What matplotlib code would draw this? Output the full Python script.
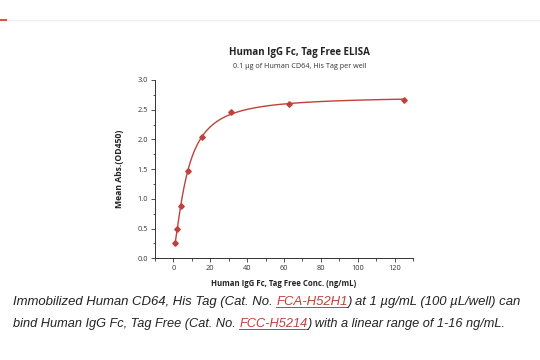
import matplotlib
matplotlib.use("Agg")
import matplotlib.pyplot as plt
import numpy as np
from matplotlib.lines import Line2D

# data
conc = [0.98, 1.95, 3.91, 7.81, 15.63, 31.25, 62.5, 125.0]
od450 = [0.25, 0.49, 0.88, 1.46, 2.04, 2.46, 2.60, 2.66]

title = "Human IgG Fc, Tag Free ELISA"
subtitle = "0.1 \u00b5g of Human CD64, His Tag per well"
xlabel = "Human IgG Fc, Tag Free Conc. (ng/mL)"
ylabel = "Mean Abs.(OD450)"
caption = [
    [("Immobilized Human CD64, His Tag (Cat. No. ", False), ("FCA-H52H1", True),
     (") at 1 \u00b5g/mL (100 \u00b5L/well) can", False)],
    [("bind Human IgG Fc, Tag Free (Cat. No. ", False), ("FCC-H5214", True),
     (") with a linear range of 1-16 ng/mL.", False)],
]

red = "#c0413b"
x = np.array(conc)
y = np.array(od450)


def four_pl(p, t):
    a, b, c, d = p
    return d + (a - d) / (1 + (t / c) ** b)


# 4PL fit by damped Gauss-Newton
p = np.array([0.0, 1.0, 8.0, 2.7])
lam = 1e-2
for _ in range(300):
    r = y - four_pl(p, x)
    J = np.zeros((len(x), 4))
    for k in range(4):
        dp = np.zeros(4)
        dp[k] = 1e-6 * max(1, abs(p[k]))
        J[:, k] = (four_pl(p + dp, x) - four_pl(p, x)) / dp[k]
    step = np.linalg.solve(J.T @ J + lam * np.eye(4), J.T @ r)
    pn = p + step
    if pn[2] > 0 and np.sum((y - four_pl(pn, x)) ** 2) < np.sum(r ** 2):
        p = pn
        lam *= 0.5
    else:
        lam *= 4

xs = np.linspace(x.min(), x.max(), 400)

fig = plt.figure(figsize=(5.4, 3.6), dpi=100)
plt.rcParams['font.family'] = ['Open Sans', 'DejaVu Sans']

# top rule
fig.add_artist(Line2D([0.0, 1.0], [1 - 20 / 360] * 2, color="#eeeeee", lw=1.0))
fig.add_artist(Line2D([0.002, 0.012], [1 - 20 / 360] * 2, color="#d9534f", lw=1.5))

ax = fig.add_axes([0.287, 0.2825, 0.478, 0.4955])
ax.set_facecolor("none")

ax.plot(xs, four_pl(p, xs), color=red, lw=1.0, zorder=2)
ax.plot(x, y, linestyle="none", marker="D", ms=2.8, color=red, zorder=3)

ax.set_xlim(-10, 130)
ax.set_ylim(0, 3.0)
ax.set_xticks(np.arange(0, 121, 20))
ax.set_xticks(np.arange(-10, 131, 10), minor=True)
ax.set_yticks(np.arange(0, 3.01, 0.5))
ax.set_yticks(np.arange(0, 3.01, 0.25), minor=True)
ax.set_yticklabels(["%.1f" % v for v in np.arange(0, 3.01, 0.5)])
for s in ["top", "right"]:
    ax.spines[s].set_visible(False)
for s in ["left", "bottom"]:
    ax.spines[s].set_linewidth(0.7)
    ax.spines[s].set_color("#333333")
ax.tick_params(which="major", length=3, width=0.6, labelsize=5.3, colors="#333333", pad=2)
ax.tick_params(which="minor", length=1.8, width=0.6, colors="#333333")

ax.set_xlabel(xlabel, fontsize=5.6, fontweight="bold", color="#222222", labelpad=5)
ax.set_ylabel(ylabel, fontsize=6.2, fontweight="bold", color="#222222", labelpad=10)

fig.text(0.555, 1 - 52 / 360, title, fontsize=7, fontweight="bold", ha="center", va="center",
         color="#222222")
fig.text(0.555, 1 - 67 / 360, subtitle, fontsize=5.2, ha="center", va="center", color="#333333")

# caption with red underlined catalogue numbers
fig.canvas.draw()
renderer = fig.canvas.get_renderer()
line_y = [1 - 305 / 360, 1 - 327 / 360]
line_fs = [9.45, 9.2]
for parts, ly, fs in zip(caption, line_y, line_fs):
    cx = 13 / 540
    for txt, link in parts:
        t = fig.text(cx, ly, txt, fontsize=fs, style="italic", family=["Liberation Sans"],
                     color=red if link else "#222222", ha="left", va="baseline")
        bb = t.get_window_extent(renderer=renderer)
        w = bb.width / fig.bbox.width
        if link:
            fig.add_artist(Line2D([cx, cx + w], [ly - 2 / 360] * 2, color=red, lw=0.7))
        cx += w

fig.savefig("out.png", dpi=100)
